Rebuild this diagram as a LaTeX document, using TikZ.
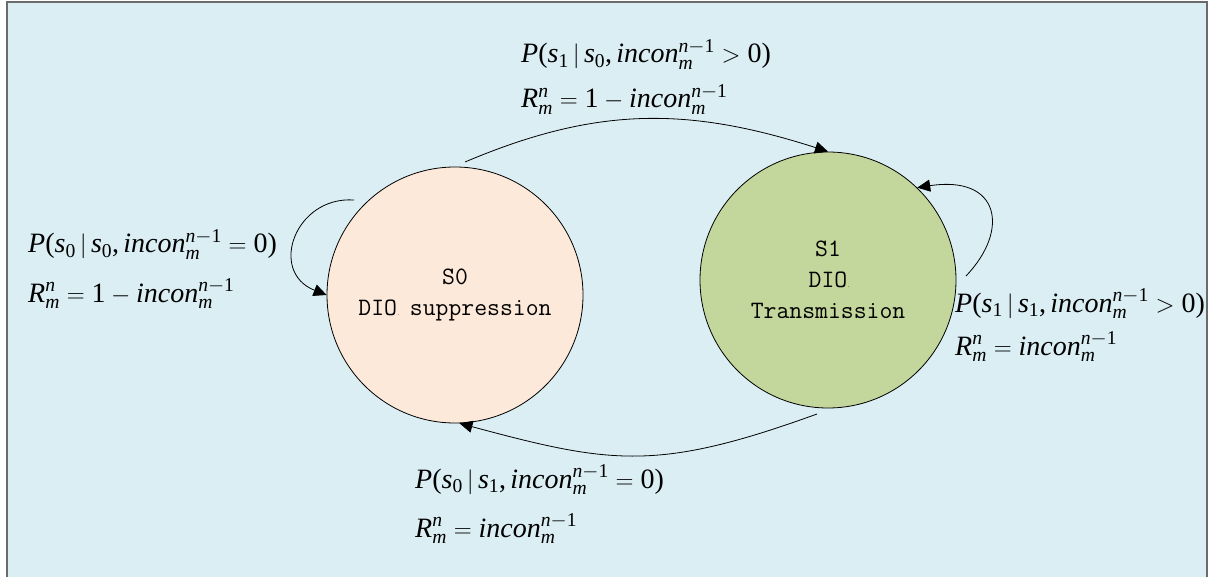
\documentclass[tikz,border=0pt]{standalone}
\usepackage{amsmath}
\usepackage{fontspec}
\setmainfont{Liberation Serif}
\usetikzlibrary{arrows.meta}
\definecolor{bgblue}{HTML}{DAEEF3}
\definecolor{peach}{HTML}{FDE9D9}
\definecolor{olive}{HTML}{C3D69B}
\definecolor{frame}{HTML}{6B6B6B}
\tikzset{
  statenode/.style={circle,draw=black,line width=0.8pt,minimum size=256pt,inner sep=0pt,align=center,
    font=\ttfamily\fontsize{25}{31}\selectfont},
  arr/.style={line width=0.8pt,-{Triangle[length=13pt,width=12pt]}},
  lbl/.style={anchor=base west,inner sep=0pt,font=\fontsize{28}{32}\selectfont}
}
\newcommand{\tinydot}{\rlap{\fontsize{6}{6}\selectfont.}}
\newcommand{\vi}[1]{\text{\itshape #1}}
\newcommand{\vu}[1]{\text{\upshape #1}}
\newcommand{\inc}{\vi{incon}_{\vi{m}}^{\vi{n}-\vu{1}}}
\newcommand{\Rmn}{\vi{R}_{\vi{m}}^{\vi{n}}}
\newcommand{\Prob}[3]{\vi{P}\vu{(}\vi{s}_{\vu{#1}}\,|\,\vi{s}_{\vu{#2}}\vu{,}\,\inc#3\vu{0)}}
\begin{document}
\begin{tikzpicture}[x=1pt,y=-1pt]
\useasboundingbox (0,0) rectangle (1212,577);
\fill[bgblue] (7,2) rectangle (1207,600);
\draw[frame,line width=1.5pt] (7,600) -- (7,2) -- (1207,2) -- (1207,600);

\node[statenode,fill=peach] (S0) at (455,295) {S0\\DIO\tinydot{} suppression};
\node[statenode,fill=olive] (S1) at (828,280) {S1\\DIO\tinydot\\Transmission};

\coordinate (t0) at (465,162);
\coordinate (b0) at (817,414);
\coordinate (l0) at (354,200);
\coordinate (r0) at (966,276);

\draw[arr] (t0) .. controls (595,107) and (686,106) .. (S1.north);
\draw[arr] (b0) .. controls (657,472) and (611,464) .. (S0.272);
\draw[arr] (l0) .. controls (295,196) and (268,272) .. (S0.west);
\draw[arr] (r0) .. controls (1010,230) and (1000,175) .. (S1.46);

\node[lbl] (lt1) at (521,63) {$\Prob{1}{0}{>}$};
\node[lbl] (lt2) at (521,108) {$\Rmn=\vu{1}-\inc$};
\node[lbl] (ll1) at (28,253) {$\Prob{0}{0}{=}$};
\node[lbl] (ll2) at (28,302) {$\Rmn=\vu{1}-\inc$};
\node[lbl] (lr1) at (955,312) {$\Prob{1}{1}{>}$};
\node[lbl] (lr2) at (955,355) {$\Rmn=\inc$};
\node[lbl] (lb1) at (415,488) {$\Prob{0}{1}{=}$};
\node[lbl] (lb2) at (415,537) {$\Rmn=\inc$};
\end{tikzpicture}
\end{document}
